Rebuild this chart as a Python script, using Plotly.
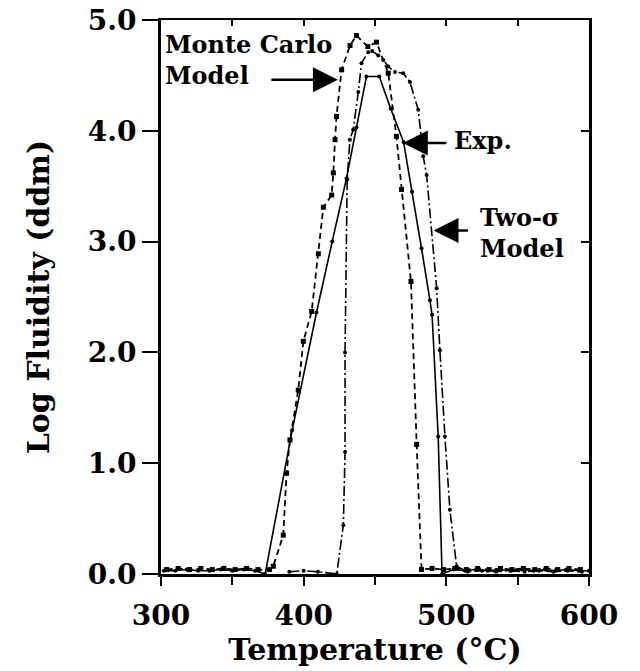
import plotly.graph_objects as go

# ---------------- data ----------------
exp_T = [302, 310, 318, 326, 334, 342, 350, 358, 366, 373, 392, 409, 420, 430, 437, 444, 453,
         461, 470, 476, 482.6, 488.5, 490, 494.3, 497, 505, 513, 521, 529, 537, 545, 553, 561,
         569, 577, 585, 593, 600]
exp_V = [0.03, 0.03, 0.04, 0.03, 0.03, 0.04, 0.03, 0.04, 0.03, 0.0, 1.30, 2.36, 3.0, 3.57, 4.03,
         4.49, 4.49, 4.2, 3.9, 3.45, 2.94, 2.47, 2.34, 1.24, 0.0, 0.04, 0.03, 0.04, 0.03, 0.04,
         0.03, 0.04, 0.03, 0.04, 0.03, 0.04, 0.03, 0.03]

mc_T = [304, 312, 320, 328, 336, 344, 352, 360, 368, 376, 378.7, 385.7, 388, 390.4, 396.2,
        399.8, 405.6, 410.3, 413.8, 419.6, 420.8, 422, 423, 426.6, 432.5, 437, 445, 451,
        459.3, 465, 468.6, 475.2, 479.2, 482.6, 490, 498, 506, 514, 522, 530, 538, 546, 554,
        562, 570, 578, 586, 594]
mc_V = [0.04, 0.05, 0.04, 0.05, 0.04, 0.05, 0.04, 0.05, 0.04, 0.04, 0.07, 0.35, 0.91, 1.21, 1.66,
        2.10, 2.37, 2.89, 3.31, 3.42, 3.62, 3.92, 4.13, 4.55, 4.77, 4.86, 4.76, 4.80,
        4.52, 3.95, 3.47, 2.64, 1.17, 0.04, 0.05, 0.04, 0.05, 0.04, 0.05, 0.04, 0.05, 0.04,
        0.05, 0.04, 0.05, 0.04, 0.05, 0.04]

ts_T = [390, 400, 410, 423.2, 427.8, 429, 429, 430.5, 432.4, 434.7, 438.3, 440.5, 445.2, 448,
        452.3, 455.8, 459.3, 464, 469.8, 474.5, 480.3, 483.8, 486.2, 493.2, 495.5, 499,
        502.5, 507.2, 515, 525, 535, 545, 555, 565, 575, 585, 595]
ts_V = [0.02, 0.03, 0.02, 0.0, 0.44, 1.1, 2.0, 3.56, 3.92, 4.01, 4.35, 4.61, 4.71, 4.72,
        4.68, 4.64, 4.58, 4.53, 4.52, 4.44, 4.19, 3.77, 3.6, 2.58, 2.02, 1.24,
        0.58, 0.07, 0.02, 0.03, 0.02, 0.03, 0.02, 0.03, 0.02, 0.03, 0.02]

x_ticks = [300, 400, 500, 600]
y_ticks = [0.0, 1.0, 2.0, 3.0, 4.0, 5.0]
y_tick_labels = ["0.0", "1.0", "2.0", "3.0", "4.0", "5.0"]

FONT = "DejaVu Serif"

fig = go.Figure()
fig.add_trace(go.Scatter(x=exp_T, y=exp_V, mode="lines+markers", name="Exp.",
                         line=dict(color="black", width=1.6, dash="solid"),
                         marker=dict(symbol="circle", size=4, color="black")))
fig.add_trace(go.Scatter(x=mc_T, y=mc_V, mode="lines+markers", name="Monte Carlo Model",
                         line=dict(color="black", width=1.8, dash="6px,4px"),
                         marker=dict(symbol="square", size=5, color="black")))
fig.add_trace(go.Scatter(x=ts_T, y=ts_V, mode="lines+markers", name="Two-σ Model",
                         line=dict(color="black", width=1.6, dash="10px,3px,2px,3px"),
                         marker=dict(symbol="circle", size=4, color="black")))

fig.update_layout(
    width=640, height=671,
    margin=dict(l=161, r=51, t=20, b=97),
    paper_bgcolor="white", plot_bgcolor="white",
    showlegend=False,
    font=dict(family=FONT, color="black"),
    xaxis=dict(range=[300, 600], tickvals=x_ticks, ticks="outside", ticklen=9, tickwidth=2,
               tickcolor="black", showline=True, linewidth=3, linecolor="black",
               showgrid=False, zeroline=False, ticklabelstandoff=5, automargin=False,
               minor=dict(dtick=50, tick0=300, ticks="outside", ticklen=8, tickwidth=2,
                          tickcolor="black", showgrid=False),
               tickfont=dict(family=FONT, size=28, color="black", weight="bold"),
               title=dict(text="<b>Temperature (°C)</b>", font=dict(family=FONT, size=30),
                          standoff=0)),
    yaxis=dict(range=[0, 5], tickvals=y_ticks, ticktext=y_tick_labels, ticks="outside",
               ticklen=16, tickwidth=2, tickcolor="black", showline=True, linewidth=3,
               linecolor="black", showgrid=False, zeroline=False, ticklabelstandoff=0,
               automargin=False,
               tickfont=dict(family=FONT, size=28, color="black", weight="bold"),
               title=dict(text="<b>Log Fluidity (ddm)</b>", font=dict(family=FONT, size=30),
                          standoff=30)),
    xaxis2=dict(range=[300, 600], overlaying="x", side="top", showline=True, linewidth=2,
                linecolor="black", tickvals=[350, 400, 450, 500, 550], ticks="inside",
                ticklen=6, tickwidth=2, tickcolor="black", showticklabels=False,
                showgrid=False, zeroline=False, automargin=False),
    yaxis2=dict(range=[0, 5], overlaying="y", side="right", showline=True, linewidth=3,
                linecolor="black", tickvals=y_ticks, ticks="inside", ticklen=8, tickwidth=2,
                tickcolor="black", showticklabels=False, showgrid=False, zeroline=False,
                automargin=False),
)
# invisible trace to activate overlay axes
fig.add_trace(go.Scatter(x=[300], y=[0], xaxis="x2", yaxis="y2", mode="markers",
                         marker=dict(opacity=0), hoverinfo="skip", showlegend=False))

lab_font = dict(family=FONT, size=24, color="black", weight="bold")
# labels
fig.add_annotation(x=0.005, y=0.985, xref="paper", yref="paper", xanchor="left", yanchor="top",
                   text="<b>Monte Carlo<br>Model</b>", showarrow=False, align="left",
                   font=lab_font)
fig.add_annotation(x=0.68, y=0.783, xref="paper", yref="paper", xanchor="left", yanchor="middle",
                   text="<b>Exp.</b>", showarrow=False, font=lab_font)
fig.add_annotation(x=0.74, y=0.615, xref="paper", yref="paper", xanchor="left", yanchor="middle",
                   text="<b>Two-σ<br>Model</b>", showarrow=False, align="left", font=lab_font)
# arrows
arrow = dict(showarrow=True, arrowhead=2, arrowsize=2.0, arrowwidth=2.5, arrowcolor="black",
             text="", axref="pixel", ayref="pixel")
fig.add_annotation(x=424, y=4.46, ax=-68, ay=0, **arrow)
fig.add_annotation(x=469.5, y=3.89, ax=45, ay=0, **arrow)
fig.add_annotation(x=491, y=3.1, ax=36, ay=0, **arrow)

fig.write_html("out.html")
